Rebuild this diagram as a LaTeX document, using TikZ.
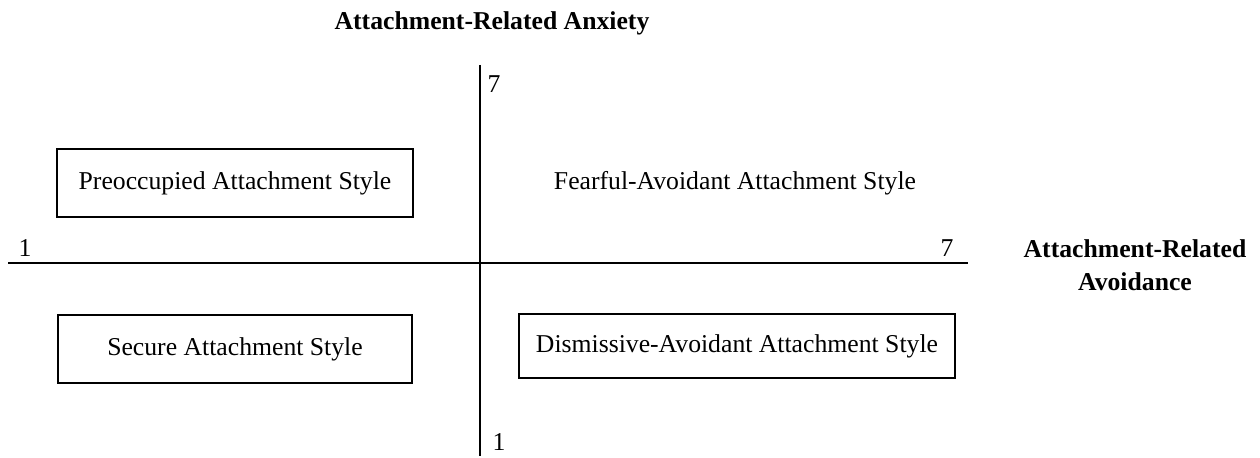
\documentclass[tikz,border=0pt]{standalone}
\usepackage{fontspec}
\setmainfont{Liberation Serif}
\usetikzlibrary{positioning}
\tikzset{
  quadtext/.style = {align=center, inner sep=0pt,
    font=\fontsize{12.85}{16.5}\selectfont},
  quadbox/.style = {quadtext, rectangle, draw=black, line width=0.65pt},% box of a style
  axistitle/.style = {quadtext, font=\fontsize{12.85}{16.5}\selectfont\bfseries},
  axisnum/.style = {quadtext}
}

\begin{document}
\begin{tikzpicture}[x=0.5pt, y=-0.5pt, line width=0.75pt]
\useasboundingbox (0,0) rectangle (1260,458);
% axes
\coordinate (xleft) at (8,263);
\coordinate (xright) at (968,263);
\coordinate (ytop) at (480,65);
\coordinate (ybot) at (480,456);
\draw (xleft) -- (xright);
\draw (ytop) -- (ybot);
% axis titles and end values
\node [axistitle, anchor=base] (anxiety) at (492,30) {Attachment-Related Anxiety};
\node [axistitle] (avoid) at (1135,265) {Attachment-Related\\Avoidance};
\node [axisnum] (xone) at (25,248) {1};
\node [axisnum] (xseven) at (947,248) {7};
\node [axisnum] (yseven) at (494,84) {7};
\node [axisnum] (yone) at (499,442) {1};
% quadrants
\node [quadbox, minimum width=178pt, minimum height=34pt] (preocc) at (235,183)
  {Preoccupied Attachment Style};
\node [quadtext] (fearful) at (735,183) {Fearful-Avoidant Attachment Style};
\node [quadbox, minimum width=177pt, minimum height=34pt] (secure) at (235,349)
  {Secure Attachment Style};
\node [quadbox, minimum width=218pt, minimum height=32pt] (dismiss) at (737,346)
  {Dismissive-Avoidant Attachment Style};
\end{tikzpicture}
\end{document}
